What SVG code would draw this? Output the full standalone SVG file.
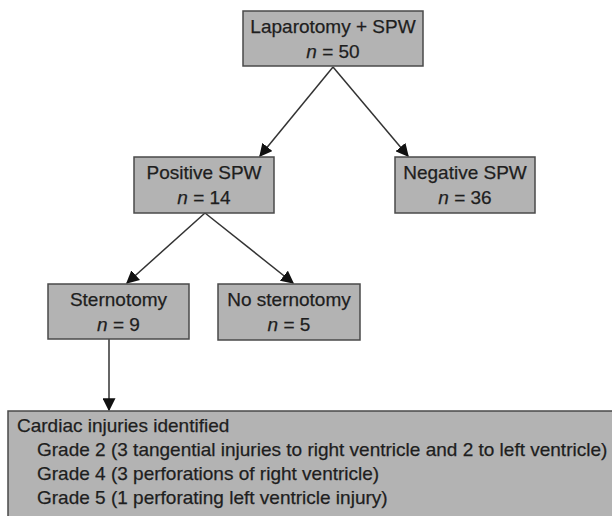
<svg xmlns="http://www.w3.org/2000/svg" width="612" height="516" viewBox="0 0 612 516">
<style>
.box{fill:#b3b3b3;stroke:#4a4a4a;stroke-width:1.5}
.t{font-family:"Liberation Sans",Arial,sans-serif;font-size:19px;fill:#1e1e1e;stroke:#1e1e1e;stroke-width:0.25}
.c{text-anchor:middle}
.i{font-style:italic}
.edge{stroke:#333;stroke-width:1.5;fill:none;marker-end:url(#ah)}
</style>
<defs>
<marker id="ah" viewBox="0 0 10 10" refX="9" refY="5" markerWidth="13" markerHeight="13" markerUnits="userSpaceOnUse" orient="auto">
<path d="M0,0 L10,5 L0,10 z" fill="#111"/>
</marker>
</defs>
<rect width="612" height="516" fill="#fff"/>
<g id="connectors">
<line class="edge" x1="333" y1="67" x2="260" y2="156"/>
<line class="edge" x1="333" y1="67" x2="408" y2="156"/>
<line class="edge" x1="205" y1="213" x2="127" y2="283"/>
<line class="edge" x1="205" y1="213" x2="293" y2="283"/>
<line class="edge" x1="109" y1="339" x2="109" y2="410"/>
</g>
<g id="n1">
<rect class="box" x="243" y="11" width="180" height="55"/>
<text class="t c" x="333" y="33">Laparotomy + SPW</text>
<text class="t c" x="333" y="58"><tspan class="i">n</tspan> = 50</text>
</g>
<g id="n2">
<rect class="box" x="134" y="157" width="140" height="56"/>
<text class="t c" x="204" y="179">Positive SPW</text>
<text class="t c" x="204" y="204"><tspan class="i">n</tspan> = 14</text>
</g>
<g id="n3">
<rect class="box" x="395" y="157" width="140" height="56"/>
<text class="t c" x="465" y="179">Negative SPW</text>
<text class="t c" x="465" y="204"><tspan class="i">n</tspan> = 36</text>
</g>
<g id="n4">
<rect class="box" x="48" y="284" width="141" height="55"/>
<text class="t c" x="118.5" y="306">Sternotomy</text>
<text class="t c" x="118.5" y="331"><tspan class="i">n</tspan> = 9</text>
</g>
<g id="n5">
<rect class="box" x="218" y="284" width="142" height="56"/>
<text class="t c" x="289" y="306">No sternotomy</text>
<text class="t c" x="289" y="331"><tspan class="i">n</tspan> = 5</text>
</g>
<g id="n6">
<rect class="box" x="8" y="411" width="620" height="120"/>
<text class="t" x="17" y="432">Cardiac injuries identified</text>
<text class="t" x="37" y="456">Grade 2 (3 tangential injuries to right ventricle and 2 to left ventricle)</text>
<text class="t" x="37" y="480">Grade 4 (3 perforations of right ventricle)</text>
<text class="t" x="37" y="504">Grade 5 (1 perforating left ventricle injury)</text>
</g>
</svg>
